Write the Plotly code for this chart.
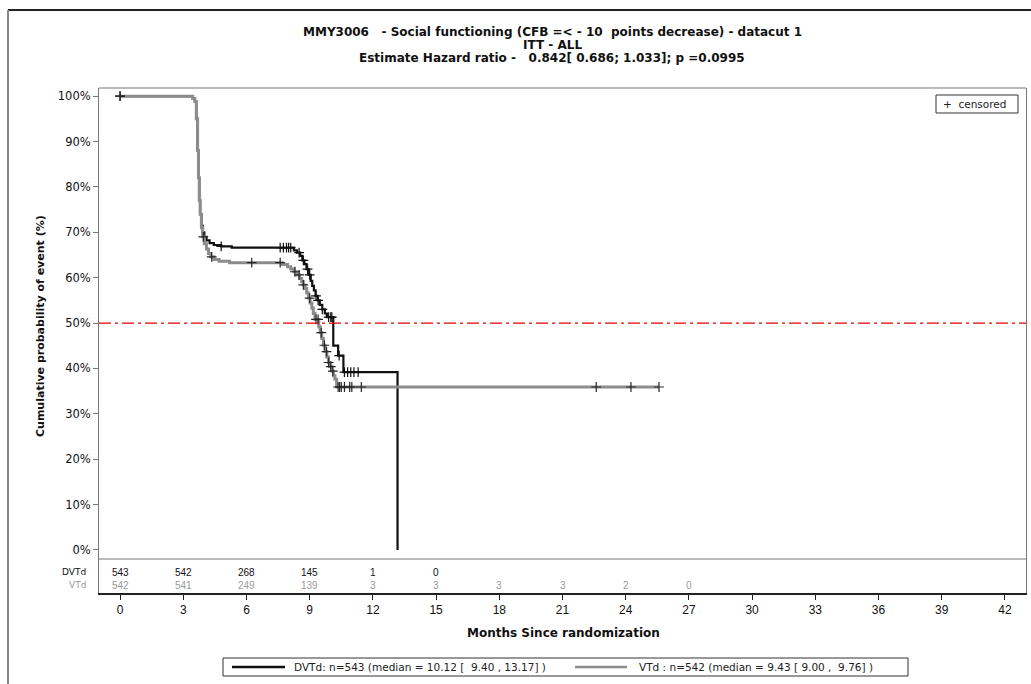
import numpy as np
import plotly.graph_objects as go

# ---- Kaplan-Meier step data (months, % still event-free) ----
dvtd_time = [0, 3.45, 3.55, 3.62, 3.68, 3.72, 3.76, 3.80, 3.86, 3.92, 4.00, 4.10, 4.25, 4.45,
             4.80, 5.30, 8.25, 8.40, 8.55, 8.65, 8.75, 8.85, 8.95, 9.05, 9.12, 9.20, 9.28,
             9.38, 9.48, 9.60, 9.72, 9.82, 10.12, 10.35, 10.60, 13.17]
dvtd_surv = [100, 99.5, 98.8, 95.0, 88.0, 82.0, 77.0, 74.0, 71.5, 70.0, 69.0, 68.2, 67.6, 67.2,
             66.9, 66.6, 66.0, 65.5, 64.8, 63.8, 63.0, 61.9, 60.6, 59.3, 58.2, 57.2, 56.0,
             55.0, 54.0, 53.0, 52.1, 51.3, 45.0, 42.8, 39.2, 0]
dvtd_cens = [0, 4.8, 7.6, 7.75, 7.9, 8.0, 8.1, 8.5, 8.7, 8.9, 9.0, 9.3, 9.4, 9.6, 9.9, 10.0,
             10.05, 10.4, 10.65, 10.8, 10.95, 11.1, 11.3]

vtd_time = [0, 3.45, 3.55, 3.62, 3.68, 3.72, 3.76, 3.80, 3.86, 3.92, 4.00, 4.10, 4.20, 4.30,
            4.45, 4.70, 5.20, 7.70, 7.95, 8.10, 8.25, 8.40, 8.52, 8.62, 8.70, 8.78, 8.86,
            8.94, 9.02, 9.10, 9.17, 9.25, 9.43, 9.50, 9.57, 9.65, 9.73, 9.81, 9.89, 9.97,
            10.05, 10.13, 10.20, 10.28, 25.58]
vtd_surv = [100, 99.5, 98.8, 95.0, 88.0, 82.0, 77.0, 74.0, 71.0, 69.0, 67.5, 66.3, 65.3, 64.6,
            64.0, 63.6, 63.3, 62.9, 62.4, 61.9, 61.3, 60.6, 59.8, 59.1, 58.4, 57.6, 56.6,
            55.5, 54.4, 53.3, 52.1, 50.8, 49.2, 47.9, 46.6, 45.1, 43.7, 42.5, 41.3, 40.4,
            39.4, 38.4, 37.6, 35.9, 35.9]
vtd_cens = [0, 3.95, 4.35, 6.25, 7.6, 8.3, 8.5, 8.7, 9.0, 9.3, 9.4, 9.55, 9.7, 9.8, 9.9,
            10.0, 10.1, 10.35, 10.42, 10.5, 10.65, 10.9, 11.0, 11.45, 22.6, 24.25, 25.58]

# ---- numbers at risk ----
risk_months = [0, 3, 6, 9, 12, 15, 18, 21, 24, 27]
dvtd_risk = [543, 542, 268, 145, 1, 0]
vtd_risk = [542, 541, 249, 139, 3, 3, 3, 3, 2, 0]

x_ticks = list(range(0, 43, 3))
y_ticks = list(range(0, 101, 10))
y_tick_text = [f"{v}%" for v in y_ticks]

FONT = "DejaVu Sans, Verdana, sans-serif"
NUMFONT = "Liberation Sans, Arial, sans-serif"
BLACK = "#111111"
GREY = "#8c8c8c"
RISK_GREY = "#9a9a9a"

# pixel geometry of the plotting area
W, H = 1031, 684
L, R, T, B = 99, 1026, 88, 593
PW, PH = R - L, B - T
Y_LO, Y_HI = -9.5, 101.8


def px(xpix):
    return (xpix - L) / PW


def py(ypix):
    return (B - ypix) / PH


def y_at_pixel(ypix):
    return Y_LO + (B - ypix) * (Y_HI - Y_LO) / PH


def step_value(times, surv, t):
    idx = np.searchsorted(np.asarray(times), t, side="right") - 1
    return float(np.asarray(surv)[max(idx, 0)])


fig = go.Figure()

# curves (DVTd underneath, VTd on top)
fig.add_trace(go.Scatter(x=dvtd_time, y=dvtd_surv, mode="lines", line_shape="hv",
                         line=dict(color=BLACK, width=2.2), showlegend=False,
                         hoverinfo="skip"))
fig.add_trace(go.Scatter(x=vtd_time, y=vtd_surv, mode="lines", line_shape="hv",
                         line=dict(color=GREY, width=3), showlegend=False,
                         hoverinfo="skip"))

# censoring marks
for times, surv, cens, col in [(dvtd_time, dvtd_surv, dvtd_cens, BLACK),
                               (vtd_time, vtd_surv, vtd_cens, "#262626")]:
    cy = [step_value(times, surv, t) for t in cens]
    fig.add_trace(go.Scatter(x=cens, y=cy, mode="markers", showlegend=False,
                             hoverinfo="skip",
                             marker=dict(symbol="cross-thin", size=7,
                                         line=dict(color=col, width=1.2))))

shapes = []
# 50% reference line
shapes.append(dict(type="line", xref="paper", yref="y", x0=0, x1=1, y0=50, y1=50,
                   line=dict(color="#e60000", width=1.2, dash="12px,4px,3px,4px")))
# top frame and separator above numbers at risk
shapes.append(dict(type="line", xref="paper", yref="paper", x0=0, x1=1, y0=1, y1=1,
                   line=dict(color="#777777", width=1)))
shapes.append(dict(type="line", xref="paper", yref="paper", x0=0, x1=1,
                   y0=py(559), y1=py(559), line=dict(color="#777777", width=1)))
# page border
shapes.append(dict(type="line", xref="paper", yref="paper", x0=px(8), x1=px(1040),
                   y0=py(10), y1=py(10), line=dict(color="#222222", width=2)))
shapes.append(dict(type="line", xref="paper", yref="paper", x0=px(8), x1=px(8),
                   y0=py(10), y1=py(700), line=dict(color="#888888", width=2)))
# "censored" key box
shapes.append(dict(type="rect", xref="paper", yref="paper", x0=px(936), x1=px(1018),
                   y0=py(113), y1=py(95), line=dict(color="#333333", width=1)))
# bottom legend box and line samples
shapes.append(dict(type="rect", xref="paper", yref="paper", x0=px(223), x1=px(908),
                   y0=py(676), y1=py(658), line=dict(color="#333333", width=1)))
shapes.append(dict(type="line", xref="paper", yref="paper", x0=px(232), x1=px(285),
                   y0=py(667), y1=py(667), line=dict(color=BLACK, width=2.5)))
shapes.append(dict(type="line", xref="paper", yref="paper", x0=px(575), x1=px(627),
                   y0=py(667), y1=py(667), line=dict(color=GREY, width=2.5)))

ann = []
title_lines = [
    "MMY3006\u00a0\u00a0\u00a0- Social functioning (CFB =< - 10\u00a0\u00a0points decrease) - datacut 1",
    "ITT - ALL",
    "Estimate Hazard ratio -\u00a0\u00a0\u00a00.842[ 0.686; 1.033]; p =0.0995",
]
for txt, yc in zip(title_lines, [32, 45, 58]):
    ann.append(dict(text=f"<b>{txt}</b>", xref="paper", yref="paper", x=px(552), y=py(yc),
                    showarrow=False, xanchor="center", yanchor="middle",
                    font=dict(family=FONT, size=12, color=BLACK)))

ann.append(dict(text="<b>Cumulative probability of event (%)</b>", xref="paper", yref="paper",
                x=px(40), y=py(326), textangle=-90, showarrow=False,
                xanchor="center", yanchor="middle",
                font=dict(family=FONT, size=11, color=BLACK)))
ann.append(dict(text="<b>Months Since randomization</b>", xref="paper", yref="paper",
                x=px(563), y=py(633), showarrow=False, xanchor="center", yanchor="middle",
                font=dict(family=FONT, size=12, color=BLACK)))

# numbers at risk
y_row_d = y_at_pixel(572)
y_row_v = y_at_pixel(585)
ann.append(dict(text="DVTd", xref="paper", yref="y", x=px(88), y=y_row_d, showarrow=False,
                xanchor="right", yanchor="middle",
                font=dict(family=FONT, size=9, color=BLACK)))
ann.append(dict(text="VTd", xref="paper", yref="y", x=px(88), y=y_row_v, showarrow=False,
                xanchor="right", yanchor="middle",
                font=dict(family=FONT, size=9, color=RISK_GREY)))
for m, n in zip(risk_months, dvtd_risk):
    ann.append(dict(text=str(n), x=m, y=y_row_d, xref="x", yref="y", showarrow=False,
                    xanchor="center", yanchor="middle",
                    font=dict(family=NUMFONT, size=10, color=BLACK)))
for m, n in zip(risk_months, vtd_risk):
    ann.append(dict(text=str(n), x=m, y=y_row_v, xref="x", yref="y", showarrow=False,
                    xanchor="center", yanchor="middle",
                    font=dict(family=NUMFONT, size=10, color=RISK_GREY)))

# keys
ann.append(dict(text="+\u00a0\u00a0censored", xref="paper", yref="paper", x=px(941),
                y=py(104), showarrow=False, xanchor="left", yanchor="middle",
                font=dict(family=FONT, size=10.5, color="#222222")))
ann.append(dict(text="DVTd: n=543 (median = 10.12 [\u00a0\u00a09.40 , 13.17] )", xref="paper",
                yref="paper", x=px(292), y=py(667), showarrow=False, xanchor="left",
                yanchor="middle", font=dict(family=FONT, size=10.5, color="#222222")))
ann.append(dict(text="VTd : n=542 (median = 9.43 [ 9.00 ,\u00a0\u00a09.76] )", xref="paper",
                yref="paper", x=px(637), y=py(667), showarrow=False, xanchor="left",
                yanchor="middle", font=dict(family=FONT, size=10.5, color="#222222")))

fig.update_layout(
    width=W, height=H,
    margin=dict(l=L, r=W - R, t=T, b=H - B),
    paper_bgcolor="white", plot_bgcolor="white",
    shapes=shapes, annotations=ann, showlegend=False,
    xaxis=dict(range=[-1.0, 43.0], tickvals=x_ticks, showgrid=False, zeroline=False,
               showline=True, linecolor="#222222", linewidth=1.5, ticks="outside",
               ticklen=5, tickcolor="#222222",
               tickfont=dict(family=NUMFONT, size=12, color=BLACK)),
    yaxis=dict(range=[Y_LO, Y_HI], tickvals=y_ticks, ticktext=y_tick_text,
               showgrid=False, zeroline=False, showline=True, mirror=True,
               linecolor="#777777", linewidth=1, ticks="outside", ticklen=5,
               tickcolor="#777777", tickfont=dict(family=FONT, size=11.5, color=BLACK)),
)

fig.write_html("out.html")
